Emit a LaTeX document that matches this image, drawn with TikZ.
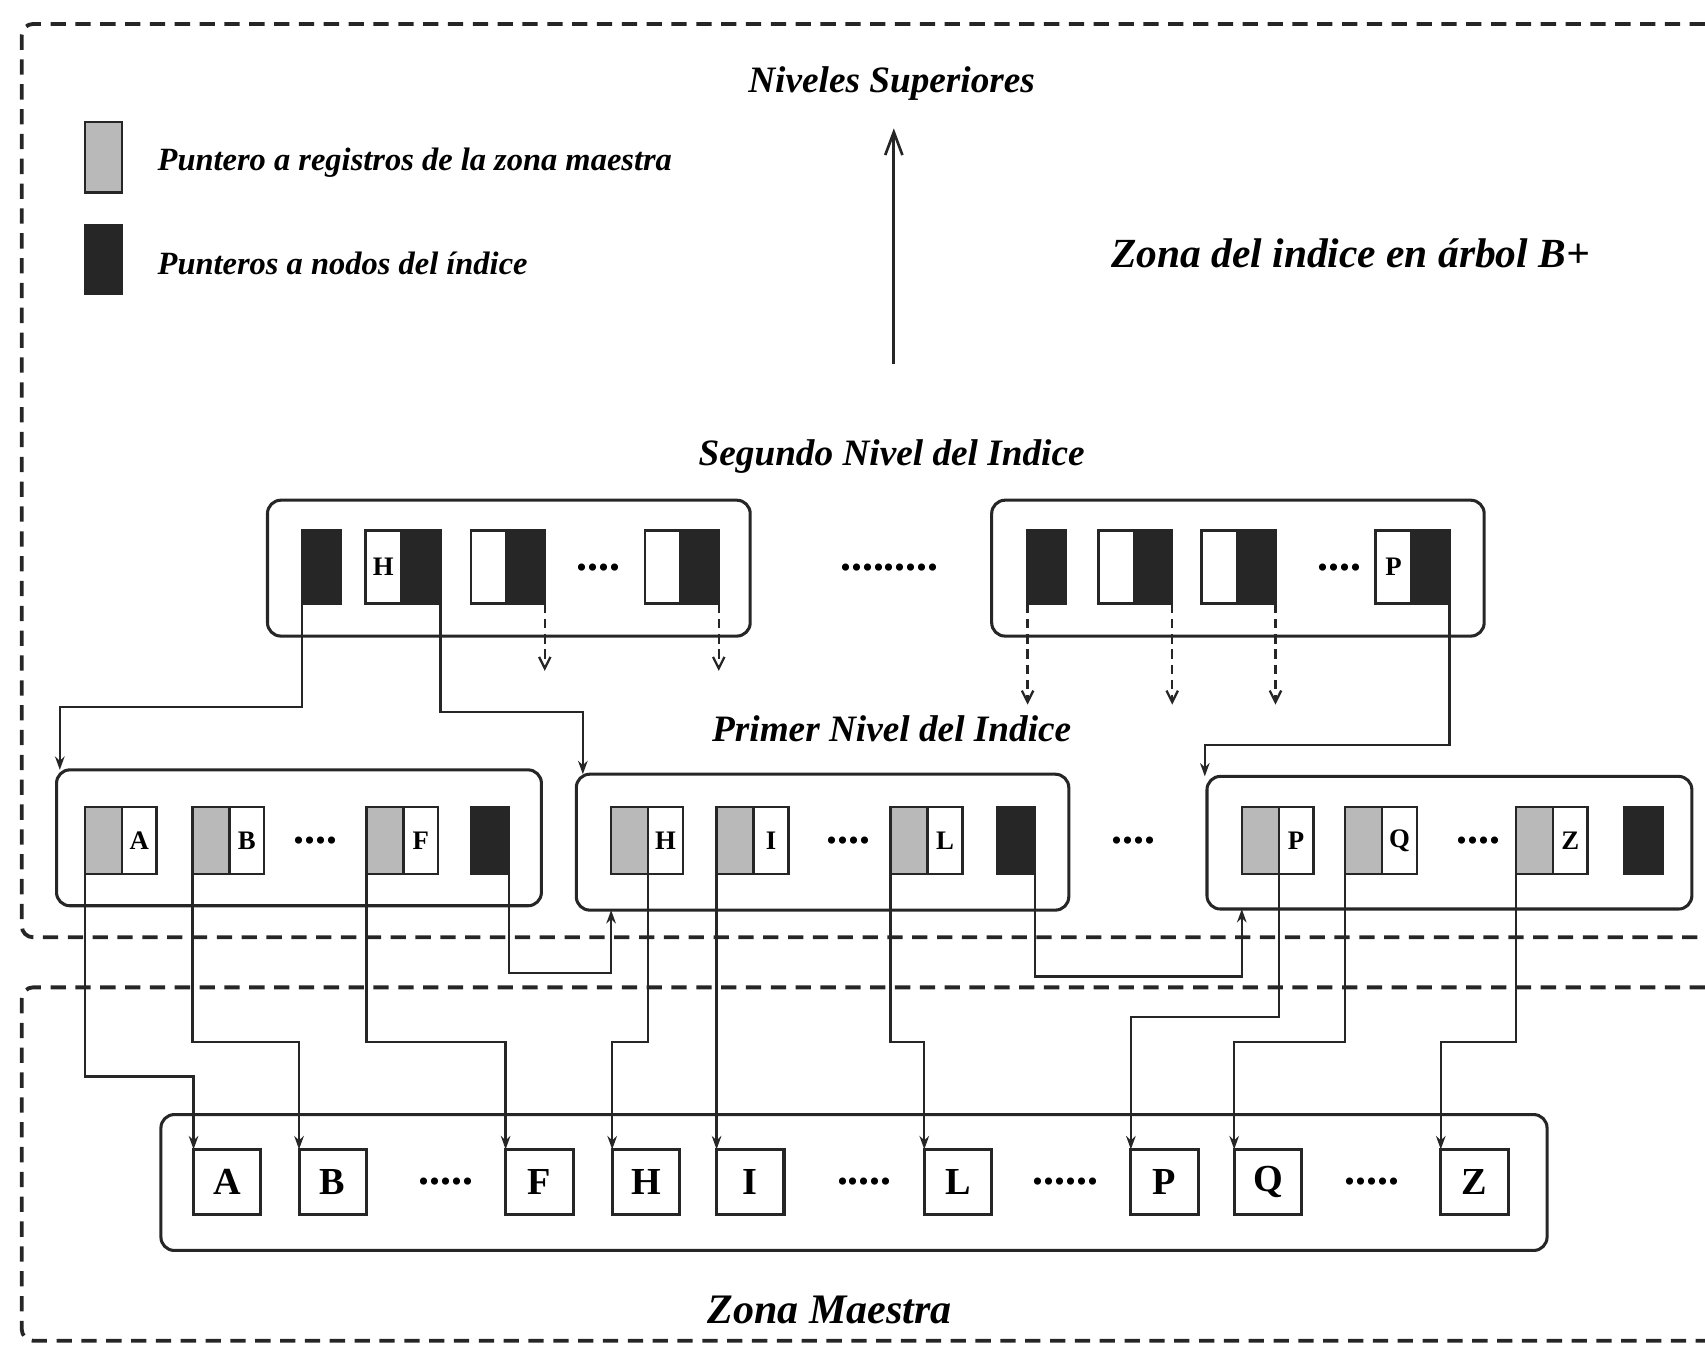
\documentclass[tikz,border=0pt]{standalone}
\usepackage{fontspec}
\setmainfont{Liberation Serif}
\usetikzlibrary{arrows.meta,calc}
\begin{document}
\begin{tikzpicture}[x=0.02cm,y=-0.02cm,
  every node/.style={inner sep=0pt,outer sep=0pt},
  zone/.style={draw=black!85, line width=2pt, dash pattern=on 8pt off 5pt, rounded corners=6pt},
  lvbox/.style={draw=black!85, line width=1.6pt, rounded corners=7pt, anchor=north west, minimum height=2.5cm},
  gcell/.style={draw=black!85, line width=1.3pt, fill=gray!55, anchor=north west, minimum width=0.68cm, minimum height=1.24cm},
  wcell/.style={draw=black!85, line width=1.3pt, fill=white, anchor=north west, minimum width=0.64cm, minimum height=1.24cm, font=\bfseries\fontsize{14}{14}\selectfont},
  kcell/.style={draw=black!85, line width=1.3pt, fill=black!85, anchor=north west, minimum width=0.7cm, minimum height=1.24cm},
  kcellt/.style={kcell, minimum height=1.34cm},
  wcellt/.style={wcell, minimum width=0.66cm, minimum height=1.34cm},
  mbox/.style={draw=black!85, line width=1.6pt, fill=white, anchor=north west, minimum width=1.24cm, minimum height=1.2cm, font=\bfseries\fontsize{20}{20}\selectfont},
  conn/.style={draw=black!85, line width=1.2pt},
  arr/.style={conn, -{Stealth[length=7pt,width=5pt]}},
  darr/.style={conn, dash pattern=on 5pt off 3pt, -{Straight Barb[length=6pt,width=6pt]}},
  headtext/.style={font=\bfseries\itshape\fontsize{19.5}{19.5}\selectfont},
  legtext/.style={font=\bfseries\itshape\fontsize{17}{17}\selectfont, anchor=west},
  dotsrow/.style={font=\bfseries\fontsize{23}{23}\selectfont}
]
\useasboundingbox (0,0) rectangle (1568,1240);

% zones
\draw[zone] (1568,22) -- (20,22) -- (20,862) -- (1568,862);
\draw[zone] (1568,908) -- (20,908) -- (20,1233) -- (1568,1233);

% legend
\node[gcell, minimum height=1.3cm] (lg) at (78,112) {};
\node[kcell, minimum width=0.68cm, minimum height=1.26cm] (lk) at (78,207) {};
\node[legtext] (lgt) at (145,150) {Puntero a registros de la zona maestra};
\node[legtext] (lkt) at (145,242) {Punteros a nodos del índice};

% titles
\node[headtext] (ns) at (820,77) {Niveles Superiores};
\coordinate (up0) at (822,335);
\coordinate (up1) at (822,118);
\draw[conn, line width=1.4pt, -{Straight Barb[length=12pt,width=9pt]}] (up0) -- (up1);
\node[headtext, font=\bfseries\itshape\fontsize{21.7}{21.7}\selectfont] (zi) at (1242,233) {Zona del indice en árbol B+};
\node[headtext] (sn) at (820,420) {Segundo Nivel del Indice};
\node[headtext] (pn) at (820,670) {Primer Nivel del Indice};
\node[headtext, font=\bfseries\itshape\fontsize{22}{22}\selectfont] (zm) at (763,1205) {Zona Maestra};

% second level
\node[lvbox, minimum width=8.88cm] (s1) at (246,460) {};
\node[lvbox, minimum width=9.06cm] (s2) at (912,460) {};
\node[kcellt] (s1k0) at (278,488) {};
\node[wcellt] (s1w1) at (336,488) {H};
\node[kcellt] (s1k1) at (370,488) {};
\node[wcellt] (s1w2) at (433,488) {};
\node[kcellt] (s1k2) at (466,488) {};
\node[dotsrow] (s1d) at (550,522) {....};
\node[wcellt] (s1w3) at (593,488) {};
\node[kcellt] (s1k3) at (626,488) {};
\node[dotsrow] (sd) at (818,522) {.........};
\node[kcellt] (s2k0) at (945,488) {};
\node[wcellt] (s2w1) at (1010,488) {};
\node[kcellt] (s2k1) at (1043,488) {};
\node[wcellt] (s2w2) at (1105,488) {};
\node[kcellt] (s2k2) at (1138,488) {};
\node[dotsrow] (s2d) at (1232,522) {....};
\node[wcellt] (s2w3) at (1265,488) {P};
\node[kcellt] (s2k3) at (1298,488) {};

% first level
\node[lvbox, minimum width=8.92cm] (p1) at (52,708) {};
\node[lvbox, minimum width=9.06cm] (p2) at (530,712) {};
\node[lvbox, minimum width=8.92cm, minimum height=2.44cm] (p3) at (1110,714) {};
\node[gcell] (gA) at (78,742) {};
\node[wcell] (wA) at (112,742) {A};
\node[gcell] (gB) at (177,742) {};
\node[wcell] (wB) at (211,742) {B};
\node[dotsrow] (p1d) at (290,773) {....};
\node[gcell] (gF) at (337,742) {};
\node[wcell] (wF) at (371,742) {F};
\node[kcell] (p1k) at (433,742) {};
\node[gcell] (gH) at (562,742) {};
\node[wcell] (wH) at (596,742) {H};
\node[gcell] (gI) at (659,742) {};
\node[wcell] (wI) at (693,742) {I};
\node[dotsrow] (p2d) at (780,773) {....};
\node[gcell] (gL) at (819,742) {};
\node[wcell] (wL) at (853,742) {L};
\node[kcell] (p2k) at (917,742) {};
\node[dotsrow] (pd) at (1042,773) {....};
\node[gcell] (gP) at (1142,742) {};
\node[wcell] (wP) at (1176,742) {P};
\node[gcell] (gQ) at (1237,742) {};
\node[wcell] (wQ) at (1271,742) {Q};
\node[dotsrow] (p3d) at (1360,773) {....};
\node[gcell] (gZ) at (1394,742) {};
\node[wcell] (wZ) at (1428,742) {Z};
\node[kcell] (p3k) at (1494,742) {};

% master zone
\node[lvbox, minimum width=25.5cm] (mz) at (148,1025) {};
\node[mbox] (mA) at (178,1057) {A};
\node[mbox] (mB) at (275,1057) {B};
\node[dotsrow] (md1) at (410,1087) {.....};
\node[mbox] (mF) at (465,1057) {F};
\node[mbox] (mH) at (563,1057) {H};
\node[mbox] (mI) at (659,1057) {I};
\node[dotsrow] (md2) at (795,1087) {.....};
\node[mbox] (mL) at (850,1057) {L};
\node[dotsrow] (md3) at (980,1087) {......};
\node[mbox] (mP) at (1040,1057) {P};
\node[mbox] (mQ) at (1135,1057) {Q};
\node[dotsrow] (md4) at (1262,1087) {.....};
\node[mbox] (mZ) at (1325,1057) {Z};

% connectors second level -> first level
\draw[arr] (s1k0.south west) -- (s1k0.south west |- 0,650) -| ($(p1.north west)+(3,0)$);
\draw[arr] (s1k1.south east) -- (s1k1.south east |- 0,655) -| ($(p2.north west)+(6,0)$);
\draw[darr] (s1k2.south east) -- (s1k2.south east |- 0,617);
\draw[darr] (s1k3.south east) -- (s1k3.south east |- 0,617);
\draw[darr] (s2k0.south west) -- (s2k0.south west |- 0,648);
\draw[darr] (s2k1.south east) -- (s2k1.south east |- 0,648);
\draw[darr] (s2k2.south east) -- (s2k2.south east |- 0,648);
\draw[arr] (s2k3.south east) -- (s2k3.south east |- 0,685) -| ($(p3.north west)+(-2,0)$);

% connectors first level -> master
\draw[arr] (gA.south west) -- (gA.south west |- 0,990) -| (mA.north west);
\draw[arr] (gB.south west) -- (gB.south west |- 0,958) -| (mB.north west);
\draw[arr] (gF.south west) -- (gF.south west |- 0,958) -| (mF.north west);
\draw[arr] (gH.south east) -- (gH.south east |- 0,958) -| (mH.north west);
\draw[arr] (gI.south west) -- (mI.north west);
\draw[arr] (gL.south west) -- (gL.south west |- 0,958) -| (mL.north west);
\draw[arr] (gP.south east) -- (gP.south east |- 0,935) -| (mP.north west);
\draw[arr] (gQ.south west) -- (gQ.south west |- 0,958) -| (mQ.north west);
\draw[arr] (gZ.south west) -- (gZ.south west |- 0,958) -| (mZ.north west);

% leaf chaining
\draw[arr] (p1k.south east) -- (p1k.south east |- 0,895) -| (gH.south west |- p2.south);
\draw[arr] (p2k.south east) -- (p2k.south east |- 0,898) -| (gP.south west |- p3.south);
\end{tikzpicture}
\end{document}
